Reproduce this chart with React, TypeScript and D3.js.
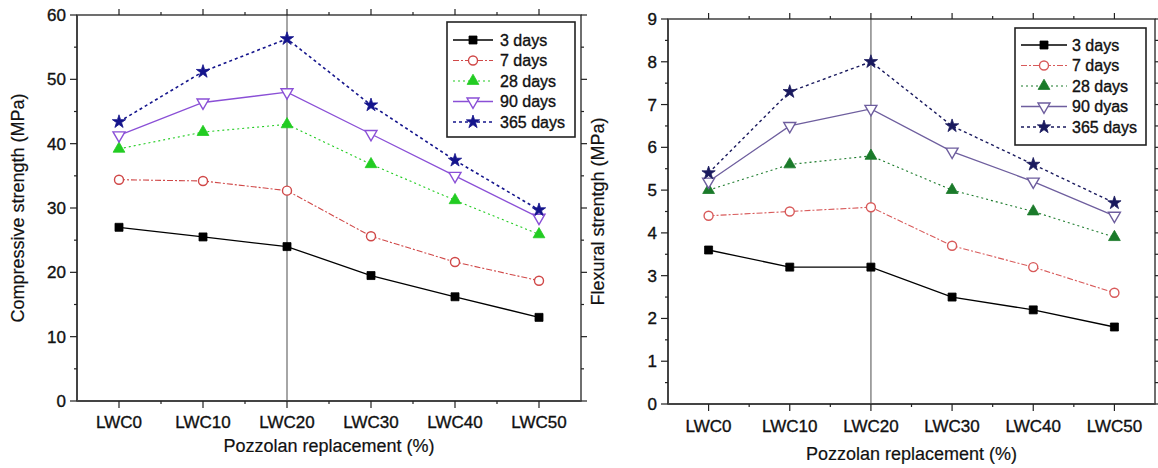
import React from "react";
import * as d3 from "d3";

const categories = ["LWC0", "LWC10", "LWC20", "LWC30", "LWC40", "LWC50"];
const seriesNames = ["3 days", "7 days", "28 days", "90 days", "365 days"];
const seriesNamesRight = ["3 days", "7 days", "28 days", "90 dyas", "365 days"];

const comp3 = [27.0, 25.5, 24.0, 19.5, 16.2, 13.0];
const comp7 = [34.4, 34.2, 32.7, 25.6, 21.6, 18.7];
const comp28 = [39.2, 41.8, 43.0, 36.8, 31.2, 25.9];
const comp90 = [41.3, 46.4, 48.0, 41.5, 35.0, 28.5];
const comp365 = [43.4, 51.2, 56.3, 46.0, 37.4, 29.7];

const flex3 = [3.6, 3.2, 3.2, 2.5, 2.2, 1.8];
const flex7 = [4.4, 4.5, 4.6, 3.7, 3.2, 2.6];
const flex28 = [5.0, 5.6, 5.8, 5.0, 4.5, 3.9];
const flex90 = [5.2, 6.5, 6.9, 5.9, 5.2, 4.4];
const flex365 = [5.4, 7.3, 8.0, 6.5, 5.6, 4.7];

const compTicks = [0, 10, 20, 30, 40, 50, 60];
const flexTicks = [0, 1, 2, 3, 4, 5, 6, 7, 8, 9];

type Style = { color: string; dash: string; width: number; symbol: string; fill: boolean };

const leftStyles: Style[] = [
  { color: "#000000", dash: "", width: 1.3, symbol: "square", fill: true },
  { color: "#d04848", dash: "6,2,2,2", width: 1.1, symbol: "circle", fill: false },
  { color: "#22cc22", dash: "2,3", width: 1.1, symbol: "triangle", fill: true },
  { color: "#8a4fd6", dash: "", width: 1.3, symbol: "down", fill: false },
  { color: "#14148c", dash: "3,3", width: 1.6, symbol: "star", fill: true },
];
const rightStyles: Style[] = [
  { color: "#000000", dash: "", width: 1.3, symbol: "square", fill: true },
  { color: "#d85a5a", dash: "6,2,2,2", width: 1.1, symbol: "circle", fill: false },
  { color: "#1a7a2a", dash: "2,3", width: 1.1, symbol: "triangle", fill: true },
  { color: "#6e5e9e", dash: "", width: 1.3, symbol: "down", fill: false },
  { color: "#1a1a5e", dash: "3,3", width: 1.4, symbol: "star", fill: true },
];

function symbolPath(kind: string): string {
  switch (kind) {
    case "square":
      return d3.symbol(d3.symbolSquare, 64)()!;
    case "circle":
      return d3.symbol(d3.symbolCircle, 64)()!;
    case "triangle":
      return d3.symbol(d3.symbolTriangle, 60)()!;
    case "down":
      return d3.symbol(d3.symbolTriangle, 62)()!;
    case "star":
      return d3.symbol(d3.symbolStar, 55)()!;
  }
  return "";
}

function Marker({ x, y, s }: { x: number; y: number; s: Style }) {
  const rot = s.symbol === "down" ? " rotate(180)" : "";
  return (
    <path
      d={symbolPath(s.symbol)}
      transform={`translate(${x},${y})${rot}`}
      fill={s.fill ? s.color : "#fff"}
      stroke={s.color}
      strokeWidth={s.fill ? 0.8 : 1.4}
    />
  );
}

type PanelProps = {
  x0: number;
  x1: number;
  yTop: number;
  yBot: number;
  yMax: number;
  ticks: number[];
  minorStep: number;
  data: number[][];
  styles: Style[];
  names: string[];
  yTitle: string;
  yTitleX: number;
  tickLabelY: number;
  xTitleY: number;
  legend: { x: number; y: number; w: number; h: number; rowY: number; rowGap: number; lineX0: number; lineX1: number; textX: number };
};

const textProps = {
  fontFamily: "'Liberation Sans', Arial, sans-serif",
  fill: "#111",
  stroke: "#111",
  strokeWidth: 0.35,
};

function Panel(p: PanelProps) {
  const x = d3.scaleLinear().domain([-0.5, 5.5]).range([p.x0, p.x1]);
  const y = d3.scaleLinear().domain([0, p.yMax]).range([p.yBot, p.yTop]);
  const line = d3
    .line<number>()
    .x((_, i) => x(i))
    .y((v) => y(v));
  const minor: number[] = [];
  for (let v = p.minorStep; v < p.yMax; v += p.minorStep * 2) minor.push(+v.toFixed(3));
  const xMinor = [0.5, 1.5, 2.5, 3.5, 4.5];
  const axisColor = "#222";
  return (
    <g>
      <line x1={x(2)} x2={x(2)} y1={p.yTop} y2={p.yBot} stroke="#909090" strokeWidth={1.6} />
      <rect x={p.x0} y={p.yTop} width={p.x1 - p.x0} height={p.yBot - p.yTop} fill="none" stroke={axisColor} strokeWidth={1.3} />
      <line x1={p.x0} x2={p.x0} y1={p.yTop} y2={p.yBot} stroke="#444" strokeWidth={2} />
      <line x1={p.x0} x2={p.x1} y1={p.yBot} y2={p.yBot} stroke="#444" strokeWidth={2} />
      {p.ticks.map((t) => (
        <g key={"yt" + t}>
          <line x1={p.x0 - 7} x2={p.x0} y1={y(t)} y2={y(t)} stroke={axisColor} strokeWidth={1.2} />
          <line x1={p.x1} x2={p.x1 + 6} y1={y(t)} y2={y(t)} stroke={axisColor} strokeWidth={1.2} />
          <text x={p.x0 - 11} y={y(t)} dy="0.35em" textAnchor="end" fontSize={17} {...textProps}>
            {t}
          </text>
        </g>
      ))}
      {minor.map((t) => (
        <g key={"ym" + t}>
          <line x1={p.x0 - 3} x2={p.x0} y1={y(t)} y2={y(t)} stroke={axisColor} strokeWidth={1.2} />
          <line x1={p.x1} x2={p.x1 + 3} y1={y(t)} y2={y(t)} stroke={axisColor} strokeWidth={1.2} />
        </g>
      ))}
      {categories.map((c, i) => (
        <g key={"xt" + c}>
          <line x1={x(i)} x2={x(i)} y1={p.yBot} y2={p.yBot + 7} stroke={axisColor} strokeWidth={1.2} />
          <line x1={x(i)} x2={x(i)} y1={p.yTop} y2={p.yTop - 6} stroke={axisColor} strokeWidth={1.2} />
          <text x={x(i)} y={p.tickLabelY} dy="0.35em" textAnchor="middle" fontSize={17} {...textProps}>
            {c}
          </text>
        </g>
      ))}
      {xMinor.map((v) => (
        <g key={"xm" + v}>
          <line x1={x(v)} x2={x(v)} y1={p.yBot} y2={p.yBot + 3} stroke={axisColor} strokeWidth={1.2} />
          <line x1={x(v)} x2={x(v)} y1={p.yTop} y2={p.yTop - 3} stroke={axisColor} strokeWidth={1.2} />
        </g>
      ))}
      <text x={(p.x0 + p.x1) / 2} y={p.xTitleY} dy="0.35em" textAnchor="middle" fontSize={18} {...textProps} strokeWidth={0.2}>
        Pozzolan replacement (%)
      </text>
      <text
        transform={`translate(${p.yTitleX},${(p.yTop + p.yBot) / 2}) rotate(-90)`}
        dy="0.35em"
        textAnchor="middle"
        fontSize={18}
        {...textProps}
        strokeWidth={0.2}
      >
        {p.yTitle}
      </text>
      {p.data.map((vals, si) => {
        const s = p.styles[si];
        return (
          <g key={"s" + si}>
            <path d={line(vals)!} fill="none" stroke={s.color} strokeWidth={s.width} strokeDasharray={s.dash} />
            {vals.map((v, i) => (
              <Marker key={i} x={x(i)} y={y(v)} s={s} />
            ))}
          </g>
        );
      })}
      <rect x={p.legend.x} y={p.legend.y} width={p.legend.w} height={p.legend.h} fill="#fff" stroke="#222" strokeWidth={1.6} />
      {p.names.map((n, i) => {
        const s = p.styles[i];
        const ly = p.legend.rowY + i * p.legend.rowGap;
        return (
          <g key={"l" + i}>
            <line x1={p.legend.lineX0} x2={p.legend.lineX1} y1={ly} y2={ly} stroke={s.color} strokeWidth={s.width} strokeDasharray={s.dash} />
            <Marker x={(p.legend.lineX0 + p.legend.lineX1) / 2} y={ly} s={s} />
            <text x={p.legend.textX} y={ly} dy="0.35em" fontSize={16} {...textProps}>
              {n}
            </text>
          </g>
        );
      })}
    </g>
  );
}

export default function App() {
  return (
    <svg width={1158} height={468} style={{ position: "absolute", left: 0, top: 0, background: "#fff" }}>
      <rect width={1158} height={468} fill="#fff" />
      <Panel
        x0={77}
        x1={581}
        yTop={15}
        yBot={401}
        yMax={60}
        ticks={compTicks}
        minorStep={5}
        data={[comp3, comp7, comp28, comp90, comp365]}
        styles={leftStyles}
        names={seriesNames}
        yTitle="Compressive strength (MPa)"
        yTitleX={18}
        tickLabelY={422}
        xTitleY={446}
        legend={{ x: 447, y: 22, w: 128, h: 115, rowY: 40, rowGap: 20.5, lineX0: 453, lineX1: 493, textX: 500 }}
      />
      <Panel
        x0={668}
        x1={1155}
        yTop={19}
        yBot={404}
        yMax={9}
        ticks={flexTicks}
        minorStep={0.5}
        data={[flex3, flex7, flex28, flex90, flex365]}
        styles={rightStyles}
        names={seriesNamesRight}
        yTitle="Flexural strentgh (MPa)"
        yTitleX={598}
        tickLabelY={426}
        xTitleY={454}
        legend={{ x: 1015, y: 28, w: 131, h: 117, rowY: 45, rowGap: 20.5, lineX0: 1021, lineX1: 1067, textX: 1072 }}
      />
    </svg>
  );
}
